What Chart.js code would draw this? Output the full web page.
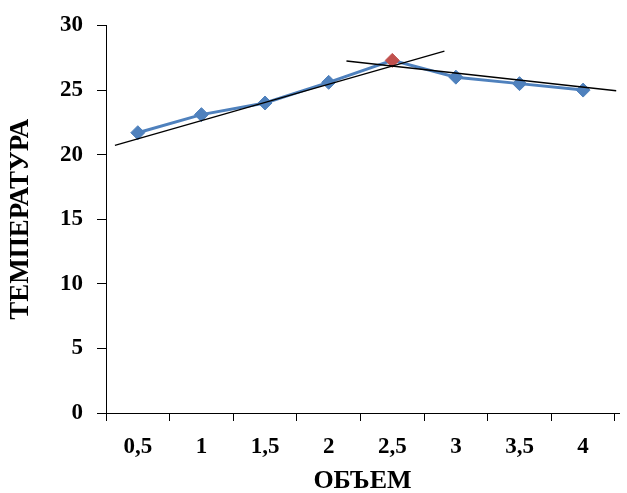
<!DOCTYPE html>
<html>
<head>
<meta charset="utf-8">
<script src="https://cdn.jsdelivr.net/npm/chart.js@4/dist/chart.umd.min.js"></script>
<style>
  html, body { margin: 0; padding: 0; background: #fff; }
  #wrap { width: 627px; height: 493px; }
</style>
</head>
<body>
<div id="wrap"><canvas id="grafico"></canvas></div>
<script>
// Dados
const volumes = [0.5, 1, 1.5, 2, 2.5, 3, 3.5, 4];
const temperaturas = [21.7, 23.1, 24.0, 25.6, 27.3, 26.0, 25.5, 25.0];
const yTicks = [0, 5, 10, 15, 20, 25, 30];

// Linhas de tendência (pontos extremos)
const tendencia1X = [0.32, 2.91];
const tendencia1Y = [20.72, 28.02];
const tendencia2X = [2.14, 4.26];
const tendencia2Y = [27.25, 24.95];

const pontoDestaque = 4; // ponto vermelho (2,5)

const azul = '#4f81bd';
const vermelho = '#c0504d';

const fonteTick = { family: 'Liberation Serif', size: 23, weight: 'bold', lineHeight: 1 };
const fonteTituloX = { family: 'Liberation Serif', size: 26, weight: 'bold', lineHeight: 1 };
const fonteTituloY = { family: 'Liberation Serif', size: 27, weight: 'bold', lineHeight: 1 };

new Chart(document.getElementById('grafico'), {
  type: 'line',
  data: {
    datasets: [
      {
        data: volumes.map((v, i) => ({ x: v, y: temperaturas[i] })),
        borderColor: azul,
        borderWidth: 3,
        pointStyle: 'rectRot',
        pointRadius: 7,
        pointBackgroundColor: volumes.map((v, i) => i === pontoDestaque ? vermelho : azul),
        pointBorderColor: volumes.map((v, i) => i === pontoDestaque ? vermelho : azul),
        pointBorderWidth: 1,
        tension: 0,
        order: 2
      },
      {
        data: tendencia1X.map((v, i) => ({ x: v, y: tendencia1Y[i] })),
        borderColor: '#000',
        borderWidth: 1.3,
        pointRadius: 0,
        order: 1
      },
      {
        data: tendencia2X.map((v, i) => ({ x: v, y: tendencia2Y[i] })),
        borderColor: '#000',
        borderWidth: 1.3,
        pointRadius: 0,
        order: 1
      }
    ]
  },
  options: {
    responsive: true,
    maintainAspectRatio: false,
    animation: false,
    layout: { padding: { top: 25, right: 0, left: 0, bottom: 0 } },
    plugins: {
      legend: { display: false },
      tooltip: { enabled: false }
    },
    scales: {
      x: {
        type: 'linear',
        min: 0.25,
        max: 4.282,
        afterBuildTicks: scale => { scale.ticks = volumes.map(v => ({ value: v })); },
        afterFit: scale => { scale.height = 80; },
        border: { display: true, color: '#000', width: 1 },
        grid: { offset: true, drawOnChartArea: false, drawTicks: true, tickLength: 8, color: '#000' },
        ticks: {
          color: '#000',
          font: fonteTick,
          padding: 15,
          maxRotation: 0,
          callback: v => String(v).replace('.', ',')
        },
        title: { display: true, text: 'ОБЪЕМ', color: '#000', font: fonteTituloX, padding: { top: 0, bottom: -1 } }
      },
      y: {
        min: 0,
        max: 30,
        afterBuildTicks: scale => { scale.ticks = yTicks.map(v => ({ value: v })); },
        afterFit: scale => { scale.width = 106; },
        border: { display: true, color: '#000', width: 1 },
        grid: { drawOnChartArea: false, drawTicks: true, tickLength: 9, color: '#000' },
        ticks: { color: '#000', font: fonteTick, padding: 14 },
        title: { display: true, text: 'ТЕМПЕРАТУРА', color: '#000', font: fonteTituloY, padding: { top: 8, bottom: 0 } }
      }
    }
  }
});
</script>
</body>
</html>
